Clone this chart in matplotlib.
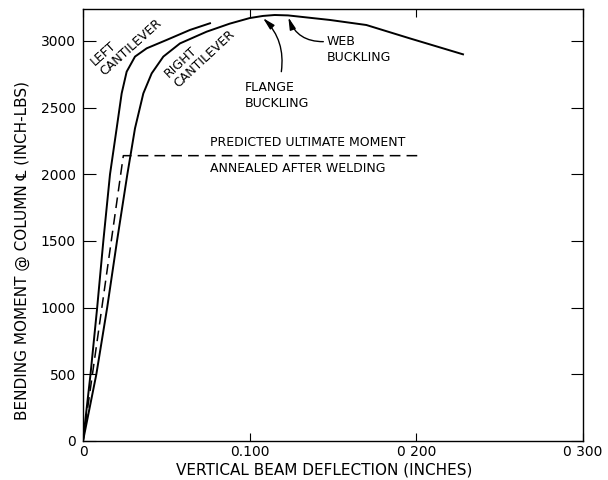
import matplotlib
matplotlib.use("Agg")
import matplotlib.pyplot as plt
from matplotlib.patches import FancyArrowPatch

plt.rcParams['font.family'] = ['DejaVu Sans']

# Deflection (in) vs bending moment (in-lbs)
left_x = [0, 0.0045, 0.0085, 0.0122, 0.0162, 0.0202, 0.0232, 0.0262, 0.0312,
          0.0382, 0.0502, 0.0642, 0.0762]
left_m = [0, 500, 1000, 1500, 2000, 2345, 2607, 2770, 2883,
          2945, 3008, 3083, 3133]

right_x = [0, 0.0080, 0.0145, 0.0204, 0.0266, 0.0312, 0.0362, 0.0412, 0.0482,
           0.0582, 0.0742, 0.0880, 0.1000, 0.1080, 0.1150, 0.1230, 0.1480,
           0.1700, 0.1960, 0.2280]
right_m = [0, 500, 1000, 1500, 2000, 2345, 2607, 2757, 2883,
           2982, 3070, 3130, 3172, 3188, 3195, 3192, 3158,
           3120, 3020, 2900]

predicted_x = [0, 0.0242, 0.201]
predicted_m = [0, 2140, 2140]

x_ticks = [0, 0.1, 0.2, 0.3]
x_tick_labels = ["0", "0.100", "0 200", "0 300"]
y_ticks = [0, 500, 1000, 1500, 2000, 2500, 3000]

fig = plt.figure(figsize=(6.08, 4.8), dpi=100)
ax = fig.add_axes([83 / 608, 39 / 480, 500 / 608, 432 / 480])

ax.plot(left_x, left_m, color='black', lw=1.4)
ax.plot(right_x, right_m, color='black', lw=1.4)
ax.plot(predicted_x, predicted_m, color='black', lw=1.1, dashes=(7, 4))

ax.set_xlim(0, 0.3)
ax.set_ylim(0, 3240)
ax.set_xticks(x_ticks)
ax.set_xticklabels(x_tick_labels)
ax.set_yticks(y_ticks)

ax.tick_params(axis='both', direction='in', labelsize=10, width=0.8, color='black')
ax.tick_params(axis='y', length=9, pad=5, right=True)
ax.tick_params(axis='x', length=6, pad=3, top=True)
for s in ax.spines.values():
    s.set_linewidth(1.0)

ax.set_xlabel("VERTICAL BEAM DEFLECTION (INCHES)", fontsize=11)
ax.set_ylabel("BENDING MOMENT @ COLUMN \u2104 (INCH-LBS)", fontsize=11)
ax.xaxis.set_label_coords(0.482, -0.050)
ax.yaxis.set_label_coords(-0.106, 0.442)

txt = dict(fontsize=9, color='black')
ax.text(0.0762, 2235, "PREDICTED ULTIMATE MOMENT", ha='left', va='center', **txt)
ax.text(0.0762, 2040, "ANNEALED AFTER WELDING", ha='left', va='center', **txt)
ax.text(0.0140, 2718, "LEFT\nCANTILEVER", ha='left', va='bottom', rotation=42,
        rotation_mode='anchor', multialignment='left', linespacing=1.1, **txt)
ax.text(0.0585, 2631, "RIGHT\nCANTILEVER", ha='left', va='bottom', rotation=43,
        rotation_mode='anchor', multialignment='left', linespacing=1.1, **txt)
ax.text(0.097, 2592, "FLANGE\nBUCKLING", ha='left', va='center', linespacing=1.25, **txt)
ax.text(0.1464, 2936, "WEB\nBUCKLING", ha='left', va='center', linespacing=1.25, **txt)

arrow_kw = dict(arrowstyle='-|>,head_length=0.8,head_width=0.2', color='black',
                lw=1.0, shrinkA=0, shrinkB=0, mutation_scale=9)
ax.add_patch(FancyArrowPatch((0.119, 2770), (0.108, 3172),
                             connectionstyle='arc3,rad=0.25', **arrow_kw))
ax.add_patch(FancyArrowPatch((0.1442, 2995), (0.1232, 3178),
                             connectionstyle='arc3,rad=-0.35', **arrow_kw))

fig.savefig("out.png", dpi=100)
